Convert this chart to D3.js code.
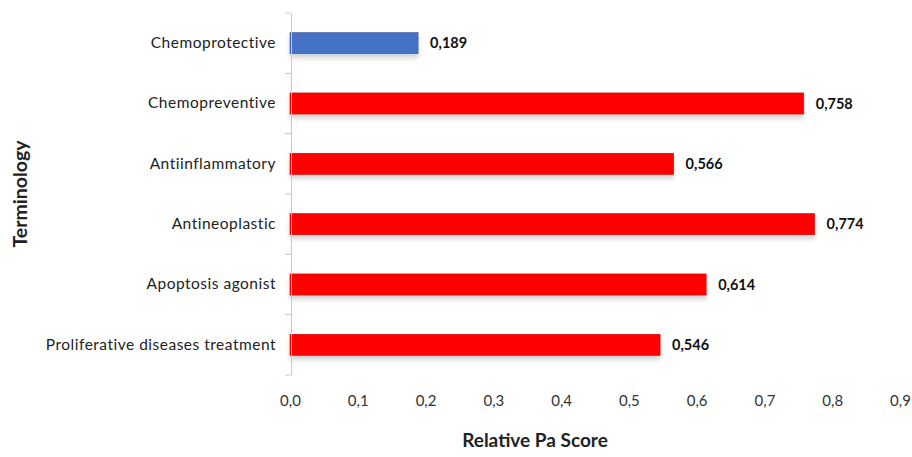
<!DOCTYPE html>
<html>
<head>
<meta charset="utf-8">
<script src="https://cdn.jsdelivr.net/npm/d3@7/dist/d3.min.js"></script>
<style>
  html, body { margin: 0; padding: 0; background: #fff; }
  svg { display: block; }
</style>
</head>
<body>
<svg id="chart" width="912" height="457"></svg>
<script>
// Predicted activity terms and their relative Pa scores
const categories = [
  "Chemoprotective",
  "Chemopreventive",
  "Antiinflammatory",
  "Antineoplastic",
  "Apoptosis agonist",
  "Proliferative diseases treatment"
];
const scores = [0.189, 0.758, 0.566, 0.774, 0.614, 0.546];
const barColors = ["#4472C4", "#FF0000", "#FF0000", "#FF0000", "#FF0000", "#FF0000"];
const xTicks = [0, 0.1, 0.2, 0.3, 0.4, 0.5, 0.6, 0.7, 0.8, 0.9];

const data = categories.map((c, i) => ({ name: c, value: scores[i], color: barColors[i] }));

const svg = d3.select("#chart");
const margin = { left: 290, right: 12, top: 13, bottom: 82 };
const W = 912, H = 457;
const FONT = "Lato, 'Open Sans', sans-serif";

const x = d3.scaleLinear().domain([0, 0.9]).range([margin.left, 900]);
const y = d3.scaleBand()
  .domain(categories)
  .range([margin.top, H - margin.bottom])
  .paddingInner(0.65)
  .paddingOuter(0.325);

const fmt = v => d3.format(".1f")(v).replace(".", ",");
const fmtVal = v => d3.format(".3f")(v).replace(".", ",");

// soft shadow under the bars
const defs = svg.append("defs");
const f = defs.append("filter").attr("id", "shadow")
  .attr("x", "-5%").attr("y", "-30%").attr("width", "110%").attr("height", "190%");
f.append("feGaussianBlur").attr("in", "SourceAlpha").attr("stdDeviation", 2.5).attr("result", "b");
f.append("feOffset").attr("in", "b").attr("dy", 4).attr("result", "o");
f.append("feComponentTransfer").attr("in", "o").attr("result", "s")
  .append("feFuncA").attr("type", "linear").attr("slope", 0.18);
const m = f.append("feMerge");
m.append("feMergeNode").attr("in", "s");
m.append("feMergeNode").attr("in", "SourceGraphic");

// bars
svg.append("g").selectAll("rect").data(data).join("rect")
  .attr("x", x(0))
  .attr("y", d => y(d.name))
  .attr("width", d => x(d.value) - x(0))
  .attr("height", y.bandwidth())
  .attr("fill", d => d.color)
  .attr("stroke", d => d3.color(d.color).darker(0.6))
  .attr("stroke-width", 0.6)
  .attr("filter", "url(#shadow)");

// value labels
svg.append("g").selectAll("text").data(data).join("text")
  .attr("x", d => x(d.value) + 12)
  .attr("y", d => y(d.name) + y.bandwidth() / 2)
  .attr("dy", "0.36em")
  .attr("font-family", FONT)
  .attr("font-weight", "bold")
  .attr("font-size", 14.5)
  .attr("fill", "#111")
  .text(d => fmtVal(d.value));

// category axis
const yAxis = svg.append("g")
  .attr("transform", `translate(${x(0) + 1},0)`)
  .call(d3.axisLeft(y).tickSize(0).tickPadding(15));
yAxis.select(".domain").attr("stroke", "#c8c8c8");
yAxis.selectAll(".tick text")
  .attr("font-family", FONT)
  .attr("font-size", 15.5)
  .attr("letter-spacing", "0.5px")
  .attr("fill", "#222");
// band separator ticks
const bounds = categories.map(c => y(c) - y.step() * y.paddingInner() / 2).concat([y.range()[1]]);
yAxis.selectAll("line.sep").data(bounds).join("line")
  .attr("class", "sep")
  .attr("x1", -6).attr("x2", 0)
  .attr("y1", d => d).attr("y2", d => d)
  .attr("stroke", "#c8c8c8");

// value axis (labels only)
const xAxis = svg.append("g")
  .attr("transform", `translate(0,${H - margin.bottom})`)
  .call(d3.axisBottom(x).tickValues(xTicks).tickFormat(fmt).tickSize(0).tickPadding(20));
xAxis.select(".domain").remove();
xAxis.selectAll(".tick text")
  .attr("font-family", FONT)
  .attr("font-size", 15)
  .attr("fill", "#333");

// axis titles
svg.append("text")
  .attr("x", 535).attr("y", 447)
  .attr("text-anchor", "middle")
  .attr("font-family", FONT)
  .attr("font-weight", "bold")
  .attr("font-size", 19)
  .attr("fill", "#222")
  .text("Relative Pa Score");

svg.append("text")
  .attr("transform", "translate(27,194) rotate(-90)")
  .attr("text-anchor", "middle")
  .attr("font-family", FONT)
  .attr("font-weight", "bold")
  .attr("font-size", 19.5)
  .attr("fill", "#222")
  .text("Terminology");
</script>
</body>
</html>
